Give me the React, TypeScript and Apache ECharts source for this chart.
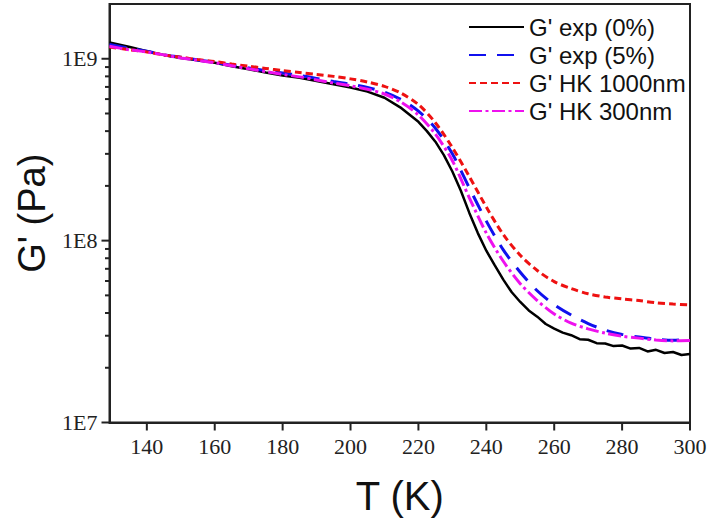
import React, { useEffect, useRef } from "react";
import * as echarts from "echarts";

// Experimental G' (0%) – black, noisy measured curve
const tempsExp0 = [
  129, 135, 140, 145, 150, 155, 160, 165, 170, 175, 180, 185, 190, 195, 200, 205, 210, 215, 220,
  222.5, 225, 227.5, 230, 232.5, 235, 237.5, 240, 242.5, 245, 247.5, 250, 252.5, 255, 257.5, 260,
  262.5, 265, 267.5, 270, 272.5, 275, 277.5, 280, 282.5, 285, 287.5, 290, 292.5, 295, 297.5, 300,
];
const gExp0 = [
  1.23e9, 1.16e9, 1.1e9, 1.05e9, 1.01e9, 0.98e9, 0.95e9, 0.91e9, 0.875e9, 0.84e9, 0.81e9, 0.785e9,
  0.755e9, 0.725e9, 0.695e9, 0.66e9, 0.61e9, 0.535e9, 0.45e9, 0.4e9, 0.35e9, 0.295e9, 0.24e9,
  0.188e9, 0.142e9, 0.11e9, 0.088e9, 0.073e9, 0.061e9, 0.052e9, 0.046e9, 0.0413e9, 0.0382e9,
  0.0348e9, 0.0328e9, 0.0312e9, 0.0302e9, 0.0287e9, 0.0285e9, 0.0273e9, 0.0272e9, 0.0263e9,
  0.0265e9, 0.0255e9, 0.0257e9, 0.0246e9, 0.0251e9, 0.0241e9, 0.0244e9, 0.0235e9, 0.0238e9,
];

// Shared temperature grid for the other three curves
const tempsModel = [
  129, 135, 140, 145, 150, 155, 160, 165, 170, 175, 180, 185, 190, 195, 200, 205, 210, 215, 220,
  225, 230, 235, 240, 245, 250, 255, 260, 265, 270, 275, 280, 285, 290, 295, 300,
];
const gExp5 = [
  1.2e9, 1.14e9, 1.1e9, 1.05e9, 1.02e9, 0.985e9, 0.955e9, 0.92e9, 0.89e9, 0.86e9, 0.835e9, 0.81e9,
  0.78e9, 0.75e9, 0.725e9, 0.695e9, 0.655e9, 0.595e9, 0.515e9, 0.415e9, 0.3e9, 0.195e9, 0.128e9,
  0.089e9, 0.067e9, 0.053e9, 0.0445e9, 0.039e9, 0.035e9, 0.0322e9, 0.0305e9, 0.0295e9, 0.0287e9,
  0.0283e9, 0.0287e9,
];
const gHK1000 = [
  1.16e9, 1.12e9, 1.09e9, 1.05e9, 1.02e9, 0.99e9, 0.965e9, 0.935e9, 0.91e9, 0.885e9, 0.86e9, 0.84e9,
  0.82e9, 0.8e9, 0.775e9, 0.745e9, 0.705e9, 0.645e9, 0.56e9, 0.445e9, 0.325e9, 0.225e9, 0.153e9,
  0.108e9, 0.083e9, 0.0685e9, 0.0595e9, 0.0545e9, 0.051e9, 0.049e9, 0.0478e9, 0.0468e9, 0.0455e9,
  0.0448e9, 0.0443e9,
];
const gHK300 = [
  1.17e9, 1.12e9, 1.09e9, 1.05e9, 1.01e9, 0.98e9, 0.95e9, 0.915e9, 0.88e9, 0.85e9, 0.82e9, 0.795e9,
  0.765e9, 0.735e9, 0.71e9, 0.68e9, 0.64e9, 0.575e9, 0.49e9, 0.385e9, 0.275e9, 0.172e9, 0.11e9,
  0.077e9, 0.058e9, 0.0468e9, 0.0395e9, 0.0352e9, 0.0327e9, 0.031e9, 0.0298e9, 0.0291e9, 0.0284e9,
  0.0281e9, 0.0282e9,
];

const seriesNames = ["G' exp (0%)", "G' exp (5%)", "G' HK 1000nm", "G' HK 300nm"];
const xTickValues = [140, 160, 180, 200, 220, 240, 260, 280, 300];
const yMajorValues = [1e7, 1e8, 1e9];
const yMinorValues = [
  2e7, 3e7, 4e7, 5e7, 6e7, 7e7, 8e7, 9e7, 2e8, 3e8, 4e8, 5e8, 6e8, 7e8, 8e8, 9e8,
];

const X_MIN = 129;
const X_MAX = 300;
const Y_MIN = 1e7;
const Y_MAX = 2e9;

const zip = (xs: number[], ys: number[]) => xs.map((x, i) => [x, ys[i]]);

const AXIS_COLOR = "#222";

// tick marks placed through the axes' own scales (api.coord)
function tickSeries(data: number[][], dir: "x" | "y", len: number) {
  return {
    type: "custom",
    silent: true,
    clip: false,
    z: 20,
    data,
    encode: { x: 0, y: 1 },
    renderItem: (_params: any, api: any) => {
      const p = api.coord([api.value(0), api.value(1)]);
      const shape =
        dir === "y"
          ? { x1: p[0] - len, y1: p[1], x2: p[0], y2: p[1] }
          : { x1: p[0], y1: p[1], x2: p[0], y2: p[1] + len };
      return {
        type: "line",
        shape,
        style: { stroke: AXIS_COLOR, lineWidth: 2 },
      };
    },
  };
}

export default function App() {
  const ref = useRef<HTMLDivElement>(null);
  useEffect(() => {
    if (!ref.current) return;
    const chart = echarts.init(ref.current, undefined, { renderer: "svg" });
    chart.setOption({
      animation: false,
      backgroundColor: "#fff",
      grid: {
        left: 109.5,
        right: 20,
        top: 4,
        bottom: 99.5,
        show: true,
        borderColor: AXIS_COLOR,
        borderWidth: 2,
        backgroundColor: "transparent",
      },
      legend: {
        orient: "vertical",
        left: 468,
        top: 15,
        padding: 0,
        itemWidth: 55,
        itemHeight: 14,
        itemGap: 4,
        itemStyle: { opacity: 0 },
        textStyle: { fontFamily: "Liberation Sans", fontSize: 24, lineHeight: 24, color: "#111" },
        data: seriesNames,
      },
      xAxis: {
        type: "value",
        min: X_MIN,
        max: X_MAX,
        axisLine: { show: true, lineStyle: { color: AXIS_COLOR, width: 2 } },
        axisTick: { show: false },
        axisLabel: {
          customValues: xTickValues,
          fontFamily: "Liberation Serif",
          fontSize: 22,
          color: "#222",
          margin: 13,
        },
        splitLine: { show: false },
        name: "T (K)",
        nameLocation: "middle",
        nameGap: 53,
        nameTextStyle: { fontFamily: "Liberation Sans", fontSize: 40, color: "#111" },
      },
      yAxis: {
        type: "log",
        logBase: 10,
        min: Y_MIN,
        max: Y_MAX,
        axisLine: { show: true, lineStyle: { color: AXIS_COLOR, width: 2 } },
        axisTick: { show: false },
        axisLabel: {
          customValues: yMajorValues,
          fontFamily: "Liberation Serif",
          fontSize: 22,
          color: "#222",
          margin: 12,
          formatter: (v: number) => "1E" + Math.round(Math.log10(v)),
        },
        splitLine: { show: false },
        name: "G' (Pa)",
        nameLocation: "middle",
        nameGap: 57,
        nameTextStyle: { fontFamily: "Liberation Sans", fontSize: 38, color: "#111" },
      },
      series: [
        {
          name: seriesNames[0],
          type: "line",
          data: zip(tempsExp0, gExp0),
          showSymbol: false,
          symbol: "none",
          lineStyle: { color: "#000000", width: 2.5, type: "solid" },
          itemStyle: { color: "#000000" },
          z: 2,
        },
        {
          name: seriesNames[1],
          type: "line",
          data: zip(tempsModel, gExp5),
          showSymbol: false,
          symbol: "none",
          smooth: 0.3,
          lineStyle: { color: "#1010ee", width: 3, type: [17, 11] },
          itemStyle: { color: "#1010ee" },
          z: 3,
        },
        {
          name: seriesNames[2],
          type: "line",
          data: zip(tempsModel, gHK1000),
          showSymbol: false,
          symbol: "none",
          smooth: 0.3,
          lineStyle: { color: "#ee1111", width: 3, type: [7, 4] },
          itemStyle: { color: "#ee1111" },
          z: 4,
        },
        {
          name: seriesNames[3],
          type: "line",
          data: zip(tempsModel, gHK300),
          showSymbol: false,
          symbol: "none",
          smooth: 0.3,
          lineStyle: { color: "#ee11ee", width: 3, type: [13, 3.5, 3, 3.5] },
          itemStyle: { color: "#ee11ee" },
          z: 5,
        },
        tickSeries(yMajorValues.map((v) => [X_MIN, v]), "y", 8),
        tickSeries(yMinorValues.map((v) => [X_MIN, v]), "y", 4.5),
        tickSeries(xTickValues.map((t) => [t, Y_MIN]), "x", 8),
      ],
    });
    return () => chart.dispose();
  }, []);
  return (
    <div
      ref={ref}
      style={{ position: "fixed", left: 0, top: 0, width: 710, height: 522, background: "#fff" }}
    />
  );
}
